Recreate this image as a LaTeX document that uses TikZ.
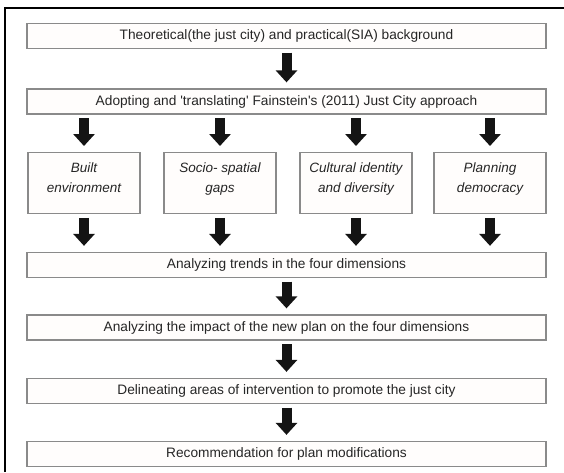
\documentclass[tikz,border=0pt]{standalone}
\usepackage{fontspec}
\setmainfont{Liberation Sans}
\usetikzlibrary{arrows.meta}
\definecolor{boxline}{HTML}{8A8A8A}
\definecolor{boxfill}{HTML}{FFFDFC}
\definecolor{txt}{HTML}{262626}
\definecolor{arr}{HTML}{141414}
\begin{document}
\begin{tikzpicture}[x=1pt,y=-1pt,
  wide/.style={draw=boxline, line width=1.3pt, fill=boxfill, minimum width=519pt,
    minimum height=25pt, inner sep=0pt, text=txt, font=\fontsize{13.7}{16}\selectfont},
  dimbox/.style={draw=boxline, line width=1.3pt, fill=boxfill, minimum width=112pt,
    minimum height=61pt, anchor=north, inner xsep=2pt, inner ysep=10.5pt, text=txt,
    font=\fontsize{13.5}{20}\selectfont\itshape},
  flow/.style={draw=arr, line width=10pt,
    -{Triangle[width=21pt,length=12pt]}, shorten <=3.5pt, shorten >=6pt}
]
\useasboundingbox (0,0) rectangle (564,472);
\fill[white] (0,0) rectangle (564,472);
\draw[line width=2pt, black] (5,472) -- (5,8) -- (564,8);

\node[wide] (b1) at (286.5,36) {Theoretical(the just city) and practical(SIA) background};
\node[wide] (b2) at (286.5,101.5) {Adopting and \textquotesingle translating\textquotesingle{} Fainstein\textquotesingle s (2011) Just City approach};

\node[dimbox] (s1) at (84,152) {\parbox[t][40pt][t]{108pt}{\centering Built\\environment}};
\node[dimbox] (s2) at (220,152) {\parbox[t][40pt][t]{108pt}{\centering Socio- spatial\\gaps}};
\node[dimbox] (s3) at (356,152) {\parbox[t][40pt][t]{108pt}{\centering Cultural identity\\and diversity}};
\node[dimbox] (s4) at (490,152) {\parbox[t][40pt][t]{108pt}{\centering Planning\\democracy}};

\node[wide] (b3) at (286.5,265) {Analyzing trends in the four dimensions};
\node[wide] (b4) at (286.5,327.5) {Analyzing the impact of the new plan on the four dimensions};
\node[wide] (b5) at (286.5,391) {Delineating areas of intervention to promote the just city};
\node[wide] (b6) at (286.5,454) {Recommendation for plan modifications};

\draw[flow] (b1) -- (b2);
\foreach \s in {s1,s2,s3,s4}{
  \draw[flow] (b2.south -| \s.north) -- (\s.north);
  \draw[flow] (\s.south) -- (b3.north -| \s.south);
}
\draw[flow] (b3) -- (b4);
\draw[flow] (b4) -- (b5);
\draw[flow] (b5) -- (b6);
\end{tikzpicture}
\end{document}
